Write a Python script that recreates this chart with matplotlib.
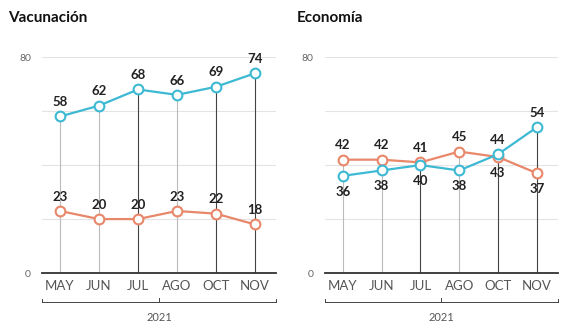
import matplotlib.pyplot as plt

plt.rcParams['font.family'] = ['Lato', 'DejaVu Sans']

months = ['MAY', 'JUN', 'JUL', 'AGO', 'OCT', 'NOV']
year = '2021'

vac_blue = [58, 62, 68, 66, 69, 74]
vac_orange = [23, 20, 20, 23, 22, 18]

eco_blue = [36, 38, 40, 38, 44, 54]
eco_orange = [42, 42, 41, 45, 43, 37]

# label above (+1) or below (-1) each point
vac_blue_pos = [1, 1, 1, 1, 1, 1]
vac_orange_pos = [1, 1, 1, 1, 1, 1]
eco_blue_pos = [-1, -1, -1, -1, 1, 1]
eco_orange_pos = [1, 1, 1, 1, -1, -1]

# darker drop lines for these months
dark_months = ['JUL', 'OCT', 'NOV']

BLUE = '#3db9d3'
ORANGE = '#e8876a'


def draw_panel(fig, rect, title, title_x, blue, orange, blue_pos, orange_pos):
    ax = fig.add_axes(rect)
    x = list(range(len(months)))

    ax.set_xlim(-0.46, 5.54)
    ax.set_ylim(0, 80)

    for s in ['top', 'right', 'left']:
        ax.spines[s].set_visible(False)
    ax.spines['bottom'].set_color('#333333')
    ax.spines['bottom'].set_linewidth(1.3)

    ax.set_yticks([0, 20, 40, 60, 80])
    ax.set_yticklabels(['0', '', '', '', '80'])
    ax.yaxis.grid(True, color='#e4e4e4', linewidth=0.8)
    ax.set_axisbelow(True)
    ax.tick_params(axis='y', length=0, labelsize=7.5, labelcolor='#666666', pad=8)

    ax.set_xticks(x)
    ax.set_xticklabels(months)
    ax.tick_params(axis='x', length=0, labelsize=9.5, labelcolor='#555555', pad=5)

    # drop lines
    for i, m in enumerate(months):
        top = max(blue[i], orange[i])
        col = '#444444' if m in dark_months else '#bbbbbb'
        ax.plot([i, i], [0, top], color=col, linewidth=0.8, zorder=1)

    for vals, pos, col in [(orange, orange_pos, ORANGE), (blue, blue_pos, BLUE)]:
        ax.plot(x, vals, color=col, linewidth=1.6, marker='o', markersize=7,
                markerfacecolor='white', markeredgecolor=col, markeredgewidth=1.5,
                zorder=3, clip_on=False)
        for i, v in enumerate(vals):
            off = 6 if pos[i] > 0 else -7
            ax.annotate(str(v), (i, v), xytext=(0, off), textcoords='offset points',
                        ha='center', va='bottom' if pos[i] > 0 else 'top',
                        fontsize=9.5, fontweight='bold', color='#222222', zorder=4)

    # year bracket below the month labels
    tr = ax.transAxes
    yb = -0.135
    ax.plot([0, 1], [yb, yb], color='#444444', linewidth=0.7, transform=tr, clip_on=False)
    ax.plot([0, 0], [yb, yb + 0.015], color='#444444', linewidth=0.7, transform=tr, clip_on=False)
    ax.plot([1, 1], [yb, yb + 0.015], color='#444444', linewidth=0.7, transform=tr, clip_on=False)
    ax.plot([0.5, 0.5], [yb, yb + 0.02], color='#444444', linewidth=0.7, transform=tr, clip_on=False)
    ax.text(0.5, yb - 0.045, year, transform=tr, ha='center', va='top',
            fontsize=8, color='#555555')

    fig.text(title_x, 0.945, title, ha='left', va='center',
             fontsize=11, fontweight='bold', color='#111111')
    return ax


fig = plt.figure(figsize=(5.64, 3.31), dpi=100)
draw_panel(fig, [0.0745, 0.175, 0.415, 0.6526], 'Vacunación', 0.014,
           vac_blue, vac_orange, vac_blue_pos, vac_orange_pos)
draw_panel(fig, [0.576, 0.175, 0.413, 0.6526], 'Economía', 0.526,
           eco_blue, eco_orange, eco_blue_pos, eco_orange_pos)

fig.savefig('out.png', dpi=100, facecolor='white')
